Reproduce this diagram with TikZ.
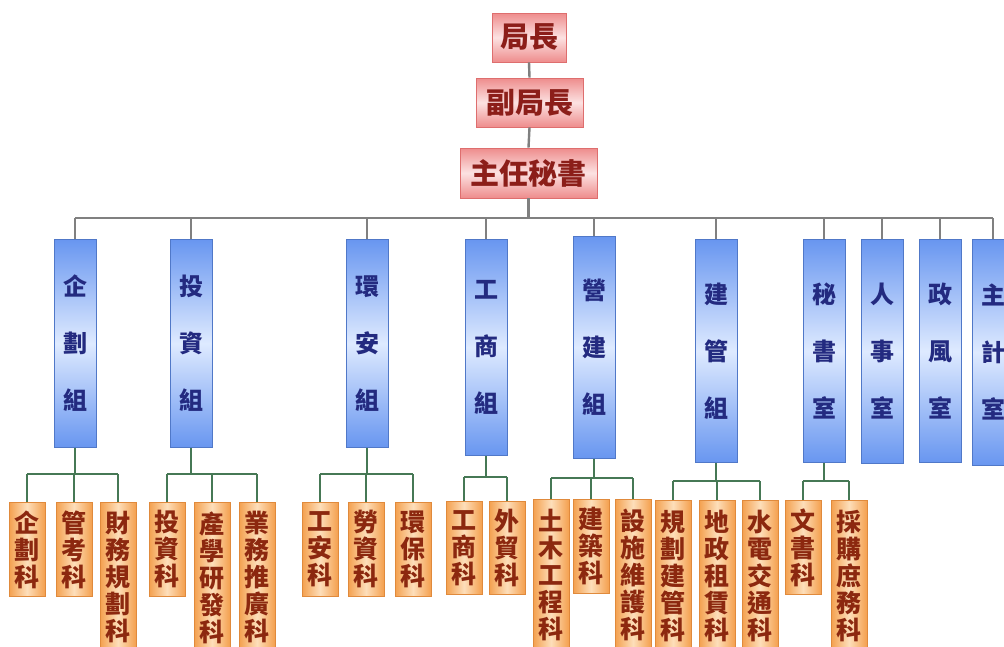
\documentclass[tikz,border=0pt]{standalone}
\usepackage{fontspec}
\newfontfamily\cjk{Noto Sans CJK TC}
\definecolor{pinkedge}{RGB}{238,140,140}
\definecolor{pinkmid}{RGB}{252,226,226}
\definecolor{pinkborder}{RGB}{222,110,110}
\definecolor{pinktext}{RGB}{140,30,25}
\definecolor{blueedge}{RGB}{104,150,240}
\definecolor{bluemid}{RGB}{222,234,255}
\definecolor{blueborder}{RGB}{80,120,200}
\definecolor{bluetext}{RGB}{35,42,128}
\definecolor{orangeedge}{RGB}{244,160,78}
\definecolor{orangemid}{RGB}{253,222,186}
\definecolor{orangeborder}{RGB}{224,138,60}
\definecolor{orangetext}{RGB}{140,40,15}
\definecolor{grayline}{RGB}{128,128,128}
\definecolor{greenline}{RGB}{70,120,85}
\begin{document}
\begin{tikzpicture}[x=1pt,y=-1pt,
  pinkbox/.style={draw=pinkborder, line width=0.8pt, top color=pinkedge, bottom color=pinkedge, middle color=pinkmid,
    text=pinktext, font=\cjk\bfseries\fontsize{29}{30}\selectfont, inner sep=0pt, minimum height=49pt},
  bluebox/.style={draw=blueborder, line width=0.8pt, top color=blueedge, bottom color=blueedge, middle color=bluemid,
    text=bluetext, font=\cjk\bfseries\fontsize{24}{57}\selectfont, align=center, inner sep=0pt,
    minimum width=42pt, anchor=north},
  orangebox/.style={draw=orangeborder, line width=0.8pt, left color=orangeedge, right color=orangeedge, middle color=orangemid,
    text=orangetext, font=\cjk\bfseries\fontsize{25}{27}\selectfont, align=center, inner sep=0pt,
    minimum width=36pt, anchor=north},
  gline/.style={draw=grayline, line width=2.4pt},
  grline/.style={draw=greenline, line width=1.8pt}
]
\useasboundingbox[fill=white] (0,0) rectangle (1004,646);

% top boxes
\node[pinkbox, minimum width=74pt] (p1) at (529,37.5) {局長};
\node[pinkbox, minimum width=107pt] (p2) at (529.5,102.5) {副局長};
\node[pinkbox, minimum width=137pt, minimum height=50pt] (p3) at (528.5,173) {主任秘書};

% groups
\node[bluebox, minimum height=208pt] (g1) at (75,239) {企\\劃\\組};
\node[bluebox, minimum height=208pt] (g2) at (191,239) {投\\資\\組};
\node[bluebox, minimum height=208pt] (g3) at (367,239) {環\\安\\組};
\node[bluebox, minimum height=216pt] (g4) at (486,239) {工\\商\\組};
\node[bluebox, minimum height=222pt] (g5) at (594,236) {營\\建\\組};
\node[bluebox, minimum height=223pt] (g6) at (716,239) {建\\管\\組};
\node[bluebox, minimum height=223pt] (g7) at (824,239) {秘\\書\\室};
\node[bluebox, minimum height=224pt] (g8) at (882,239) {人\\事\\室};
\node[bluebox, minimum height=223pt] (g9) at (940,239) {政\\風\\室};
\node[bluebox, minimum height=226pt] (g10) at (993,239) {主\\計\\室};

% sections
\node[orangebox, minimum height=94pt] (o1) at (27,502) {企\\劃\\科};
\node[orangebox, minimum height=94pt] (o2) at (74,502) {管\\考\\科};
\node[orangebox, minimum height=150pt] (o3) at (118,502) {財\\務\\規\\劃\\科};
\node[orangebox, minimum height=94pt] (o4) at (167,502) {投\\資\\科};
\node[orangebox, minimum height=150pt] (o5) at (212,502) {產\\學\\研\\發\\科};
\node[orangebox, minimum height=150pt] (o6) at (257,502) {業\\務\\推\\廣\\科};
\node[orangebox, minimum height=94pt] (o7) at (320,502) {工\\安\\科};
\node[orangebox, minimum height=94pt] (o8) at (366,502) {勞\\資\\科};
\node[orangebox, minimum height=94pt] (o9) at (413,502) {環\\保\\科};
\node[orangebox, minimum height=93pt] (o10) at (464,501) {工\\商\\科};
\node[orangebox, minimum height=93pt] (o11) at (507,501) {外\\貿\\科};
\node[orangebox, minimum height=152pt] (o12) at (551,499) {土\\木\\工\\程\\科};
\node[orangebox, minimum height=94pt] (o13) at (591,499) {建\\築\\科};
\node[orangebox, minimum height=152pt] (o14) at (633,499) {設\\施\\維\\護\\科};
\node[orangebox, minimum height=151pt] (o15) at (673,500) {規\\劃\\建\\管\\科};
\node[orangebox, minimum height=151pt] (o16) at (717,500) {地\\政\\租\\賃\\科};
\node[orangebox, minimum height=151pt] (o17) at (760,500) {水\\電\\交\\通\\科};
\node[orangebox, minimum height=94pt] (o18) at (803,500) {文\\書\\科};
\node[orangebox, minimum height=151pt] (o19) at (849,500) {採\\購\\庶\\務\\科};

% top connectors
\coordinate (bar) at (0,218);
\draw[gline] (p1.south) -- (p2.north);
\draw[gline] (p2.south) -- (p3.north);
\draw[gline] (p3.south) -- (p3.south |- bar);
\draw[gline] (g1.north |- bar) -- (g10.north |- bar);
\foreach \g in {g1,g2,g3,g4,g5,g6,g7,g8,g9,g10}
  \draw[gline] (\g.north) -- (\g.north |- bar);

% lower connectors
\foreach \g/\y/\a/\b/\list in {g1/474/o1/o3/{o1,o2,o3}, g2/474/o4/o6/{o4,o5,o6}, g3/474/o7/o9/{o7,o8,o9},
    g4/477/o10/o11/{o10,o11}, g5/478/o12/o14/{o12,o13,o14}, g6/481/o15/o17/{o15,o16,o17}, g7/481/o18/o19/{o18,o19}} {
  \coordinate (lb) at (0,\y);
  \draw[grline] (\g.south) -- (\g.south |- lb);
  \draw[grline] (\a.north |- lb) -- (\b.north |- lb);
  \foreach \o in \list
    \draw[grline] (\o.north) -- (\o.north |- lb);
}
\end{tikzpicture}
\end{document}
